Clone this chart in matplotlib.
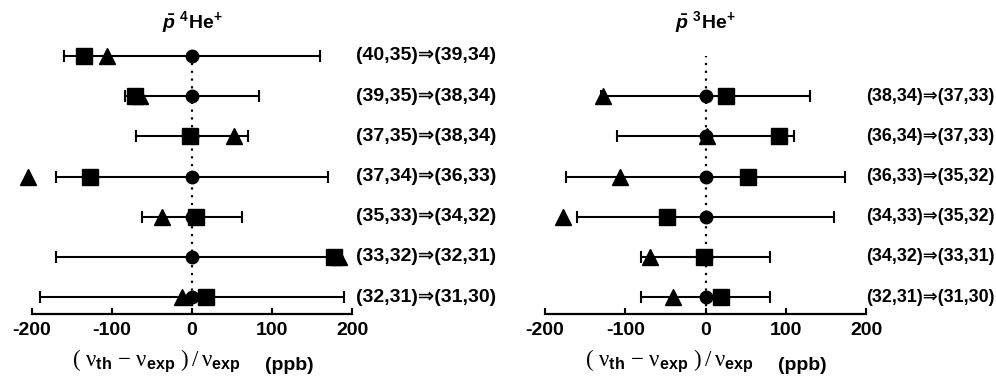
import matplotlib
matplotlib.use("Agg")
import matplotlib.pyplot as plt
import numpy as np

plt.rcParams['font.family'] = ['Liberation Sans', 'DejaVu Sans']
plt.rcParams['mathtext.fontset'] = 'custom'
plt.rcParams['mathtext.rm'] = 'Liberation Sans:bold'
plt.rcParams['mathtext.it'] = 'Liberation Sans:bold:italic'
plt.rcParams['mathtext.bf'] = 'Liberation Sans:bold'
plt.rcParams['mathtext.sf'] = 'Liberation Serif'

# ---- data (top to bottom) ----
he4_labels = ["(40,35)⇒(39,34)", "(39,35)⇒(38,34)", "(37,35)⇒(38,34)", "(37,34)⇒(36,33)",
              "(35,33)⇒(34,32)", "(33,32)⇒(32,31)", "(32,31)⇒(31,30)"]
he4_err = [160, 84, 70, 170, 62, 170, 190]
he4_square = [-135, -71, -2, -127, 5, 178, 17]
he4_triangle = [-106, -65, 52, -205, -37, 184, -13]

he3_labels = ["(38,34)⇒(37,33)", "(36,34)⇒(37,33)", "(36,33)⇒(35,32)",
              "(34,33)⇒(35,32)", "(34,32)⇒(33,31)", "(32,31)⇒(31,30)"]
he3_err = [130, 110, 174, 160, 80, 80]
he3_square = [26, 92, 53, -48, -2, 19]
he3_triangle = [-128, 2, -106, -178, -69, -40]

xticks = [-200, -100, 0, 100, 200]

W, H = 996, 382
fig = plt.figure(figsize=(W / 100, H / 100), dpi=100)

ax_bottom_px = 314
row_px = 40.2
ylo, yhi = -0.42, 6.5
ax_h = (yhi - ylo) * row_px

xlabel_math = (r'$\mathsf{(\;\nu}_{\mathbf{th}}\;\mathsf{-\;\nu}_{\mathbf{exp}}'
               r'\;\mathsf{)\,/\,\nu}_{\mathbf{exp}}$')
xlabel_unit = '(ppb)'


def panel(x0_px, x1_px, labels, err, sq, tri, title, lab_fs, lab_off):
    ax = fig.add_axes([x0_px / W, (H - ax_bottom_px) / H, (x1_px - x0_px) / W, ax_h / H])
    n = len(labels)
    ys = np.arange(n)[::-1].astype(float)
    ax.plot([0, 0], [ylo, 6], linestyle=(0, (1, 2.5)), color='black', lw=1.6, zorder=1)
    ax.errorbar(np.zeros(n), ys, xerr=err, fmt='o', color='black', ms=9,
                capsize=4.5, capthick=1.5, elinewidth=1.5, zorder=2, clip_on=False)
    ax.plot(tri, ys, linestyle='none', marker='^', ms=12, color='black', zorder=3, clip_on=False)
    ax.plot(sq, ys, linestyle='none', marker='s', ms=11.5, color='black', zorder=4, clip_on=False)
    for y, lab in zip(ys, labels):
        ax.annotate(lab, xy=(1, y), xycoords=('axes fraction', 'data'), xytext=(lab_off, 0),
                    textcoords='offset points', ha='left', va='center',
                    fontsize=lab_fs, fontweight='bold')
    ax.set_xlim(-200, 200)
    ax.set_ylim(ylo, yhi)
    for s in ['left', 'right', 'top']:
        ax.spines[s].set_visible(False)
    ax.spines['bottom'].set_linewidth(1.6)
    ax.set_yticks([])
    ax.set_xticks(xticks)
    ax.set_xticklabels([str(t) for t in xticks], fontsize=14, fontweight='bold')
    ax.tick_params(axis='x', direction='in', length=4.5, width=1.5, pad=6)
    # axis title: math part + unit, placed relative to the axes left edge
    fig.text((x0_px + 40) / W, 1 - 366 / H, xlabel_math, ha='left', va='baseline',
             fontsize=16.5, fontweight='bold')
    fig.text((x0_px + 233) / W, 1 - 370 / H, xlabel_unit, ha='left', va='baseline',
             fontsize=14, fontweight='bold')
    cx = (x0_px + x1_px) / 2
    fig.text(cx / W, 1 - 22 / H, title, ha='center', va='center', fontsize=14, fontweight='bold')
    return ax


panel(32, 352, he4_labels, he4_err, he4_square, he4_triangle,
      r'$\bar{p}$ $^{4}$He$^{+}$', 14, 3)
panel(545, 866, he3_labels, he3_err, he3_square, he3_triangle,
      r'$\bar{p}$ $^{3}$He$^{+}$', 12.9, 0)

fig.savefig('out.png', dpi=100)
